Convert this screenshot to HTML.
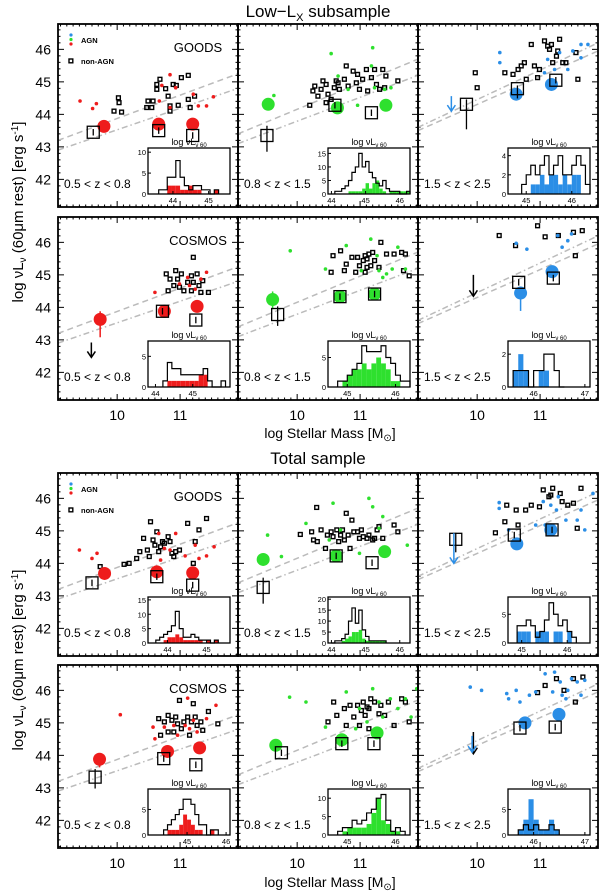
<!DOCTYPE html>
<html><head><meta charset="utf-8"><style>
body{margin:0;background:#fff;}
svg{display:block;font-family:"Liberation Sans",sans-serif;}
</style></head><body>
<svg id="fig" width="600" height="891" viewBox="0 0 600 891" xmlns="http://www.w3.org/2000/svg">
<text x="318" y="17" font-size="17" text-anchor="middle">Low−L<tspan font-size="11" dy="4">X</tspan><tspan dy="-4"> subsample</tspan></text>
<text x="318" y="464" font-size="17" text-anchor="middle">Total sample</text>
<text x="330" y="438" font-size="14" text-anchor="middle">log Stellar Mass [M<tspan font-size="10" dy="3">⊙</tspan><tspan dy="-3">]</tspan></text>
<text x="330" y="887" font-size="14" text-anchor="middle">log Stellar Mass [M<tspan font-size="10" dy="3">⊙</tspan><tspan dy="-3">]</tspan></text>
<text transform="translate(23,212) rotate(-90)" font-size="15" text-anchor="middle">log νL<tspan font-size="10" dy="3">ν</tspan><tspan dy="-3"> (60μm rest) [erg s</tspan><tspan font-size="10" dy="-5">-1</tspan><tspan dy="5">]</tspan></text>
<text transform="translate(23,660) rotate(-90)" font-size="15" text-anchor="middle">log νL<tspan font-size="10" dy="3">ν</tspan><tspan dy="-3"> (60μm rest) [erg s</tspan><tspan font-size="10" dy="-5">-1</tspan><tspan dy="5">]</tspan></text>
</svg>
<script>
// ---- data ----
const massTicks = [10, 11];
const lumTicks = [42, 43, 44, 45, 46];
const zLabels = ["0.5 < z < 0.8", "0.8 < z < 1.5", "1.5 < z < 2.5"];
const dashLine = [[43.2,45.25],[43.4,45.7],[43.5,45.95]];
const dotDashLine = [[42.9,44.8],[43.1,45.2],[43.6,46.2]];

const r1c1_agn=[[9.41,44.41],[9.67,44.33],[9.61,44.18],[10.84,45.22],[10.71,44.89],[10.93,44.82],[10.67,44.41],[10.84,44.21],[11.21,44.62],[11.29,44.26],[11.42,44.26],[11.53,44.54]];
const r1c1_non=[[10.02,44.51],[10.03,44.36],[9.95,44.10],[10.07,44.07],[10.49,44.41],[10.47,44.21],[10.55,44.21],[10.63,44.92],[10.63,44.77],[10.68,45.08],[10.77,44.79],[10.81,44.56],[10.84,44.26],[10.89,44.92],[10.94,44.89],[11.02,45.13],[11.13,45.20],[11.13,44.46],[11.16,44.21],[11.23,44.56],[10.84,44.10],[10.97,44.28],[10.57,44.41]];
const r1c1_bigA=[[9.79,43.63,0,0],[10.66,43.70,0,0],[11.20,43.70,0,0]];
const r1c1_bigN=[[9.62,43.45,0.1,0.1],[10.66,43.50,0.1,0.1],[11.20,43.35,0.1,0.1]];
const r1c1_arrows=[];
const r1c1_histAll=[1,1,4,4,8,4,2,1,2,2,1,1,0,1];
const r1c1_histAgn=[0,0,2,2,2,1,1,2,1,1,0,0,0,1];

const r1c2_agn=[[10.54,45.87],[11.20,46.05],[9.63,44.58],[11.18,45.49],[10.81,44.77],[10.96,44.28],[11.23,44.82],[10.65,45.18],[11.39,44.77],[11.49,44.82]];
const r1c2_non=[[10.20,44.28],[10.28,44.87],[10.25,44.72],[10.33,44.56],[10.38,44.77],[10.41,45.03],[10.46,44.92],[10.49,44.62],[10.54,44.46],[10.59,44.82],[10.62,45.03],[10.65,44.97],[10.67,44.77],[10.75,45.08],[10.78,45.49],[10.81,44.87],[10.89,45.33],[10.94,44.97],[10.96,45.23],[10.99,44.77],[11.04,45.08],[11.10,45.38],[11.12,44.72],[11.18,45.13],[11.23,45.38],[11.26,44.92],[11.31,44.77],[11.36,45.38],[11.39,44.82],[11.41,45.18],[11.60,45.03],[10.46,44.36]];
const r1c2_bigA=[[9.54,44.31,0.1,0.1],[10.64,44.20,0,0],[11.41,44.28,0,0]];
const r1c2_bigN=[[9.52,43.35,0.5,0.3],[10.60,44.28,0.1,0.1],[11.18,44.05,0.1,0.1]];
const r1c2_arrows=[];
const r1c2_histAll=[1,1,2,3,5,8,10,15,10,12,8,6,4,3,5,2,1,1,1,0,0,1];
const r1c2_histAgn=[0,0,0,0,1,1,1,1,2,4,2,4,5,2,1,0,1,1,1,1,1,1];

const r1c3_agn=[[10.36,45.90],[10.36,45.59],[11.12,45.69],[11.31,45.90],[11.44,45.38],[11.65,46.15],[11.76,46.15],[11.65,45.74],[11.52,45.95],[11.23,45.38],[11.07,45.28]];
const r1c3_non=[[9.97,45.28],[10.00,44.82],[10.44,45.28],[10.57,45.23],[10.65,45.38],[10.70,45.49],[10.75,45.59],[10.78,45.08],[10.86,46.15],[10.91,45.49],[10.96,45.13],[11.07,46.26],[11.12,46.10],[11.15,46.00],[11.18,46.15],[11.20,45.59],[11.26,45.79],[11.28,45.95],[11.31,46.31],[11.36,45.59],[11.41,45.59],[11.57,45.90],[11.60,45.08],[10.99,45.38]];
const r1c3_bigA=[[10.62,44.62,0.1,0.1],[11.18,44.92,0,0]];
const r1c3_bigN=[[9.83,44.31,0.77,0.15],[10.64,44.79,0.3,0.1],[11.25,45.05,0.1,0.1]];
const r1c3_arrows=[[9.59,44.56,44.10,"c"]];
const r1c3_histAll=[1,2,3,2,3,4,2,3,4,2,2,3,4,3,1];
const r1c3_histAgn=[0,0,1,1,2,1,2,2,1,2,1,2,2,0,0];

const r2c1_agn=[[10.60,44.46],[11.12,44.92],[11.42,45.08],[11.15,44.67],[10.99,44.72],[11.33,44.87],[11.24,44.56]];
const r2c1_non=[[11.21,45.54],[10.78,45.03],[10.84,44.87],[10.93,45.13],[10.96,44.87],[10.90,44.67],[10.99,44.62],[11.02,45.03],[11.12,44.77],[11.18,44.97],[11.21,44.77],[11.27,45.03],[11.30,44.67],[11.33,44.46],[11.36,44.82],[11.45,44.46],[11.06,44.51],[10.81,44.51],[11.18,44.51]];
const r2c1_bigA=[[9.73,43.63,0.55,0.25],[10.75,43.88,0,0],[11.27,44.03,0,0]];
const r2c1_bigN=[[10.72,43.88,0.1,0.1],[11.25,43.61,0.1,0.1]];
const r2c1_arrows=[[9.59,42.92,42.46,"k"]];
const r2c1_histAll=[1,4,3,3,2,2,2,2,2,3,1,0,0,1];
const r2c1_histAgn=[0,1,1,1,1,1,1,1,2,2,0,0,0,0];

const r2c2_agn=[[9.89,45.74],[10.45,45.18],[10.78,45.90],[11.02,45.13],[11.17,46.10],[11.27,45.59],[11.36,44.92],[11.51,45.18],[11.60,45.85],[11.72,45.18],[11.30,45.13],[11.42,45.03]];
const r2c2_non=[[10.57,45.59],[10.69,45.74],[10.78,45.33],[10.87,45.54],[10.96,45.54],[10.99,45.28],[11.05,45.44],[11.08,45.59],[11.11,45.49],[11.14,45.64],[11.17,45.28],[11.20,45.69],[11.23,45.44],[11.30,45.23],[11.33,46.00],[11.42,45.64],[11.54,45.64],[11.66,45.69],[11.69,45.13],[11.72,45.64],[10.54,45.08],[10.75,45.13],[10.93,45.08],[11.08,45.08],[11.11,45.23],[11.78,44.97]];
const r2c2_bigA=[[9.61,44.24,0.3,0.25],[10.68,44.33,0,0],[11.23,44.41,0,0]];
const r2c2_bigN=[[9.69,43.78,0.35,0.25],[10.68,44.33,0.1,0.1],[11.23,44.41,0.1,0.1]];
const r2c2_arrows=[];
const r2c2_histAll=[1,1,2,3,4,7,6,6,6,7,5,4,2,1,1];
const r2c2_histAgn=[0,1,2,3,3,4,3,4,5,4,3,1,1,0,0];

const r2c3_agn=[[10.62,45.97],[10.79,45.79],[11.35,45.85],[11.50,46.26],[11.28,46.21],[11.44,46.05]];
const r2c3_non=[[10.35,46.21],[10.61,45.90],[10.96,46.51],[11.08,46.17],[11.29,46.21],[11.53,46.31],[11.67,46.36],[11.56,45.59]];
const r2c3_bigA=[[10.69,44.44,0.55,0.2],[11.19,45.10,0,0]];
const r2c3_bigN=[[10.66,44.77,0.1,0.1],[11.21,44.90,0.1,0.1]];
const r2c3_arrows=[[9.94,45.00,44.34,"k"]];
const r2c3_histAll=[1,1,1,0,1,1,2,2,1,0];
const r2c3_histAgn=[1,2,1,0,0,1,1,0,0,0];

const r3c1_agn=[[9.40,44.41],[9.60,44.15],[9.68,44.31],[10.66,44.92],[10.75,44.46],[10.84,44.41],[11.08,44.23],[11.24,44.56],[11.30,44.15],[11.42,44.23],[11.54,44.51],[10.69,44.10],[10.93,44.92]];
const r3c1_non=[[9.73,43.90],[10.11,43.97],[10.19,44.00],[10.31,44.15],[10.36,44.36],[10.42,44.77],[10.48,44.41],[10.53,45.28],[10.57,44.72],[10.63,44.97],[10.60,44.56],[10.66,44.36],[10.69,44.51],[10.72,44.67],[10.75,44.62],[10.81,44.82],[10.84,44.67],[10.87,44.31],[10.90,44.21],[10.93,44.36],[10.99,44.41],[11.12,45.23],[11.24,44.67],[11.30,45.03],[11.42,45.38],[11.21,44.00],[10.51,44.21]];
const r3c1_bigA=[[9.80,43.69,0,0],[10.63,43.74,0.15,0.15],[11.20,43.71,0,0]];
const r3c1_bigN=[[9.60,43.40,0.1,0.1],[10.63,43.59,0.1,0.1],[11.20,43.33,0.1,0.1]];
const r3c1_arrows=[];
const r3c1_histAll=[1,2,3,4,6,11,5,2,2,3,2,1,1,1,0,1];
const r3c1_histAgn=[0,0,1,2,2,3,2,1,1,1,1,1,0,1,0,1];

const r3c2_agn=[[9.53,44.87],[9.75,44.21],[10.14,45.23],[10.57,45.85],[11.14,46.00],[11.20,45.74],[11.36,45.44],[11.75,44.56],[10.99,44.31],[10.69,45.03],[11.30,45.08],[10.51,44.72]];
const r3c2_non=[[10.05,44.89],[10.31,45.72],[10.23,44.97],[10.26,44.72],[10.32,44.67],[10.38,45.03],[10.45,44.46],[10.48,44.87],[10.54,44.97],[10.57,44.82],[10.63,45.03],[10.66,44.67],[10.69,44.87],[10.72,45.03],[10.75,44.72],[10.78,45.54],[10.81,44.87],[10.84,44.46],[10.87,45.33],[10.90,44.97],[10.96,44.97],[10.99,44.77],[11.02,45.03],[11.05,44.82],[11.11,44.77],[11.14,44.87],[11.20,44.72],[11.23,44.77],[11.27,45.03],[11.30,45.13],[11.36,44.77],[11.60,44.97],[11.54,45.18]];
const r3c2_bigA=[[9.46,44.12,0.15,0.1],[10.62,44.23,0,0],[11.39,44.36,0,0]];
const r3c2_bigN=[[9.46,43.26,0.5,0.3],[10.62,44.23,0.1,0.1],[11.19,44.02,0.1,0.1]];
const r3c2_arrows=[];
const r3c2_histAll=[0,1,1,2,4,10,16,9,15,6,3,1,1,1,1,1];
const r3c2_histAgn=[0,0,0,1,2,3,5,5,6,2,1,1,1,1,1,1];

const r3c3_agn=[[10.35,45.87],[10.35,45.69],[10.50,45.03],[11.05,45.90],[11.17,45.79],[11.29,46.05],[11.41,45.33],[11.59,45.33],[11.65,45.64],[11.71,45.03],[11.84,46.15],[11.08,45.18],[10.93,45.18],[11.26,45.64]];
const r3c3_non=[[10.29,44.94],[10.44,45.28],[10.47,45.79],[10.62,45.64],[10.65,45.18],[10.77,45.64],[10.86,45.79],[10.99,45.74],[11.05,46.26],[11.17,46.10],[11.20,46.31],[11.32,46.15],[11.14,46.05],[11.53,45.85],[11.59,45.08],[11.65,46.31],[11.35,45.90],[11.44,45.79]];
const r3c3_bigA=[[10.63,44.60,0.1,0.1],[11.17,45.03,0,0]];
const r3c3_bigN=[[9.66,44.74,0.4,0.2],[10.59,44.87,0.1,0.1],[11.19,45.03,0.1,0.1]];
const r3c3_arrows=[[9.63,44.93,44.00,"c"]];
const r3c3_histAll=[3,3,4,3,1,2,4,7,5,3,4,2,1];
const r3c3_histAgn=[2,2,2,0,2,2,2,0,2,2,0,2,0];

const r4c1_agn=[[10.05,45.25],[11.12,45.76],[11.57,45.54],[10.57,44.87],[10.60,44.51],[10.75,44.87],[10.90,44.92],[11.08,44.92],[11.15,44.82],[11.21,45.08],[11.42,45.13],[11.27,44.72],[10.96,44.62]];
const r4c1_non=[[10.99,45.69],[11.21,45.59],[10.66,45.13],[10.75,45.03],[10.81,45.23],[10.87,45.08],[10.93,45.18],[10.96,44.97],[11.02,44.82],[11.06,45.03],[11.12,45.18],[11.15,44.62],[11.18,45.03],[11.24,45.18],[11.27,44.92],[11.33,45.03],[11.36,44.77],[11.45,45.35],[11.60,44.97],[10.90,44.72],[10.81,44.72],[10.69,44.62]];
const r4c1_bigA=[[9.72,43.88,0.25,0.1],[10.80,44.12,0,0],[11.31,44.23,0,0]];
const r4c1_bigN=[[9.65,43.33,0.35,0.25],[10.74,43.90,0.1,0.1],[11.25,43.71,0.1,0.1]];
const r4c1_arrows=[];
const r4c1_histAll=[1,2,3,4,5,7,7,6,4,2,2,0,1,1];
const r4c1_histAgn=[0,1,1,1,2,4,3,2,1,1,0,0,1,0];

const r4c2_agn=[[9.88,45.79],[10.14,45.64],[10.45,44.87],[10.78,45.95],[10.99,45.44],[11.20,46.05],[11.30,45.64],[11.36,45.18],[11.48,45.74],[11.60,45.44],[11.72,45.74],[11.81,45.18],[11.90,46.05],[11.11,45.03],[10.93,44.82]];
const r4c2_non=[[10.49,45.03],[10.58,45.64],[10.63,45.23],[10.75,45.44],[10.78,44.92],[10.84,45.54],[10.90,45.18],[10.96,45.54],[11.02,45.38],[11.05,45.64],[11.08,45.23],[11.11,45.49],[11.14,45.44],[11.17,45.74],[11.23,45.64],[11.30,45.28],[11.33,45.54],[11.39,45.23],[11.45,45.64],[11.54,44.92],[11.66,45.74],[11.78,45.03],[11.72,45.64],[10.99,44.92],[11.14,44.82]];
const r4c2_bigA=[[9.66,44.31,0.1,0.1],[10.71,44.48,0,0],[11.27,44.69,0,0]];
const r4c2_bigN=[[9.75,44.08,0.1,0.1],[10.71,44.36,0.1,0.1],[11.22,44.36,0.1,0.1]];
const r4c2_arrows=[];
const r4c2_histAll=[1,2,2,4,3,4,6,7,10,11,4,1,2,1];
const r4c2_histAgn=[0,1,2,2,2,2,3,6,10,4,3,1,1,0];

const r4c3_agn=[[9.89,46.10],[10.07,46.00],[10.47,45.90],[10.62,46.00],[10.50,45.74],[10.68,45.64],[10.83,45.85],[10.93,45.95],[11.08,46.51],[11.23,46.56],[11.32,46.26],[11.35,45.85],[11.41,45.74],[11.50,46.36],[11.59,46.26],[11.65,45.85],[11.71,46.31],[11.20,45.95],[11.44,46.00]];
const r4c3_non=[[10.96,45.93],[11.08,46.15],[11.26,46.36],[11.38,46.00],[11.56,45.64],[11.68,46.41],[11.53,46.36]];
const r4c3_bigA=[[10.76,45.00,0,0],[11.30,45.26,0,0]];
const r4c3_bigN=[[10.68,44.84,0.1,0.1],[11.24,44.87,0.1,0.1]];
const r4c3_arrows=[[9.94,44.72,44.05,"k"],[9.92,44.60,44.10,"c"]];
const r4c3_histAll=[1,2,1,2,1,1,2,1];
const r4c3_histAgn=[1,3,7,3,1,1,3,1];

const histRange=[[43.3,45.6],[43.9,46.3],[44.6,46.4],[43.8,46.0],[44.6,46.3],[45.5,47.1],[43.5,45.6],[43.9,46.3],[44.7,46.5],[44.0,46.1],[44.6,46.3],[45.5,47.1]];
const histStart=[43.6,44.1,44.9,44.2,44.8,45.6,43.7,44.0,44.9,44.4,44.8,45.7];
const histBinW=[0.12,0.1,0.1,0.12,0.1,0.1,0.1,0.1,0.1,0.1,0.1,0.1];
const histYMax=[11,17,4.8,7.5,7.8,2.8,16,21,8,9,12.5,9];
const histYTicks=[[0,5,10],[0,5,10,15],[0,2,4],[0,5],[0,5],[0,2],[0,5,10,15],[0,5,10,15,20],[0,5],[0,5],[0,5,10],[0,5]];
const histXTicks=[[44,45],[44,45,46],[45,46],[44,45],[45,46],[46,47],[44,45],[44,45,46],[45,46],[45,46],[45,46],[46,47]];

const NS="http://www.w3.org/2000/svg";
const svg=document.getElementById("fig");
const colX=[58,238,418], rowY=[24,217,473,665], PW=180, PH=183;
const M0=9.06, M1=11.92, L0=41.15, L1=46.78;
const colors=["#ee1c1c","#2ee02e","#2b8ee6"];
function mk(tag,attrs,parent){const e=document.createElementNS(NS,tag);for(const k in attrs)e.setAttribute(k,attrs[k]);(parent||svg).appendChild(e);return e;}

const panels=[
 [r1c1_agn,r1c1_non,r1c1_bigA,r1c1_bigN,r1c1_arrows,r1c1_histAll,r1c1_histAgn],
 [r1c2_agn,r1c2_non,r1c2_bigA,r1c2_bigN,r1c2_arrows,r1c2_histAll,r1c2_histAgn],
 [r1c3_agn,r1c3_non,r1c3_bigA,r1c3_bigN,r1c3_arrows,r1c3_histAll,r1c3_histAgn],
 [r2c1_agn,r2c1_non,r2c1_bigA,r2c1_bigN,r2c1_arrows,r2c1_histAll,r2c1_histAgn],
 [r2c2_agn,r2c2_non,r2c2_bigA,r2c2_bigN,r2c2_arrows,r2c2_histAll,r2c2_histAgn],
 [r2c3_agn,r2c3_non,r2c3_bigA,r2c3_bigN,r2c3_arrows,r2c3_histAll,r2c3_histAgn],
 [r3c1_agn,r3c1_non,r3c1_bigA,r3c1_bigN,r3c1_arrows,r3c1_histAll,r3c1_histAgn],
 [r3c2_agn,r3c2_non,r3c2_bigA,r3c2_bigN,r3c2_arrows,r3c2_histAll,r3c2_histAgn],
 [r3c3_agn,r3c3_non,r3c3_bigA,r3c3_bigN,r3c3_arrows,r3c3_histAll,r3c3_histAgn],
 [r4c1_agn,r4c1_non,r4c1_bigA,r4c1_bigN,r4c1_arrows,r4c1_histAll,r4c1_histAgn],
 [r4c2_agn,r4c2_non,r4c2_bigA,r4c2_bigN,r4c2_arrows,r4c2_histAll,r4c2_histAgn],
 [r4c3_agn,r4c3_non,r4c3_bigA,r4c3_bigN,r4c3_arrows,r4c3_histAll,r4c3_histAgn]];

panels.forEach((P,i)=>{
 const row=Math.floor(i/3), col=i%3, x0=colX[col], y0=rowY[row];
 const X=m=>x0+(m-M0)/(M1-M0)*PW, Y=L=>y0+(L1-L)/(L1-L0)*PH;
 const color=colors[col];
 const g=mk("g",{});
 
 
 for(let m=9.1;m<11.92;m+=0.1){const mj=Math.abs(m-Math.round(m))<0.01, len=mj?6:2.5;
  mk("line",{x1:X(m),x2:X(m),y1:y0,y2:y0+len,stroke:"#000","stroke-width":1},g);
  mk("line",{x1:X(m),x2:X(m),y1:y0+PH,y2:y0+PH-len,stroke:"#000","stroke-width":1},g);}
 for(let L=41.2;L<46.78;L+=0.2){const mj=Math.abs(L-Math.round(L))<0.01, len=mj?6:2.5;
  mk("line",{x1:x0,x2:x0+len,y1:Y(L),y2:Y(L),stroke:"#000","stroke-width":1},g);
  mk("line",{x1:x0+PW,x2:x0+PW-len,y1:Y(L),y2:Y(L),stroke:"#000","stroke-width":1},g);}
 const dl=mk("line",{x1:x0,y1:Y(dashLine[col][0]),x2:x0+PW,y2:Y(dashLine[col][1]),stroke:"#bbb","stroke-width":1.5,"stroke-dasharray":"6,4"},g);
 
 
 const ddl=mk("line",{x1:x0,y1:Y(dotDashLine[col][0]),x2:x0+PW,y2:Y(dotDashLine[col][1]),stroke:"#bbb","stroke-width":1.5,"stroke-dasharray":"6,3,1.5,3"},g);
 
 
 P[1].forEach(p=>{const r=mk("rect",{x:X(p[0])-1.9,y:Y(p[1])-1.9,width:3.8,height:3.8,fill:"none",stroke:"#000","stroke-width":1.4},g);
  
  });
 P[0].forEach(p=>{const c=mk("circle",{cx:X(p[0]),cy:Y(p[1]),r:1.8,fill:color},g);
  
  });
 P[2].forEach(p=>{const c=mk("circle",{cx:X(p[0]),cy:Y(p[1]),r:6.5,fill:color},g);
  
  
  if(p[2]||p[3]){const e=mk("line",{x1:X(p[0]),x2:X(p[0]),y1:Y(p[1]+p[3]),y2:Y(p[1]-p[2]),stroke:color,"stroke-width":1.5},g);
   
   }});
 P[3].forEach(p=>{const r=mk("rect",{x:X(p[0])-6,y:Y(p[1])-6,width:12,height:12,fill:"none",stroke:"#000","stroke-width":1.3},g);
  
  
  const e=mk("line",{x1:X(p[0]),x2:X(p[0]),y1:Y(p[1]+p[3]),y2:Y(p[1]-p[2]),stroke:"#000","stroke-width":1.3},g);
  
  });
 P[4].forEach(a=>{const c=a[3]==="k"?"#000":color;
  const ar=mk("path",{d:`M${X(a[0])},${Y(a[1])}V${Y(a[2])}M${X(a[0])-4},${Y(a[2])-6}L${X(a[0])},${Y(a[2])}L${X(a[0])+4},${Y(a[2])-6}`,stroke:c,"stroke-width":1.5,fill:"none"},g);
  
  });
 const fr=mk("rect",{x:x0,y:y0,width:PW,height:PH,fill:"none",stroke:"#000","stroke-width":1.8},g);
 
 
 const zl=mk("text",{x:x0+6,y:y0+PH-19,"font-size":12},g); zl.textContent=zLabels[col];
 
 
 const bx0=x0+90,bx1=x0+172,by0=y0+124,by1=y0+170;
 const hr=histRange[i], ym=histYMax[i];
 const HX=v=>bx0+(v-hr[0])/(hr[1]-hr[0])*(bx1-bx0), HY=c=>by1-c/ym*(by1-by0);
 const ig=mk("g",{},g);
 
 
 mk("rect",{x:bx0,y:by0,width:bx1-bx0,height:by1-by0,fill:"#fff"},ig);
 const st=histStart[i], w=histBinW[i];
 P[6].forEach((c,k)=>{if(!c)return;const b=mk("rect",{x:HX(st+k*w),y:HY(c),width:HX(st+(k+1)*w)-HX(st+k*w),height:by1-HY(c),fill:color},ig);
  
  });
 let d=`M${HX(st)},${by1}`;
 P[5].forEach((c,k)=>{d+=`V${HY(c)}H${HX(st+(k+1)*w)}`;});
 d+=`V${by1}`;
 const hp=mk("path",{d:d,fill:"none",stroke:"#000","stroke-width":1.2},ig);
 
 
 mk("rect",{x:bx0,y:by0,width:bx1-bx0,height:by1-by0,fill:"none",stroke:"#000","stroke-width":1.3},ig);
 histYTicks[i].forEach(t=>{mk("line",{x1:bx0,x2:bx0+3,y1:HY(t),y2:HY(t),stroke:"#000"},ig);
  const tx=mk("text",{x:bx0-2,y:HY(t)+3,"font-size":7.5,"text-anchor":"end"},ig);tx.textContent=t;
  
  });
 histXTicks[i].forEach(t=>{mk("line",{x1:HX(t),x2:HX(t),y1:by1,y2:by1-3,stroke:"#000"},ig);
  const tx=mk("text",{x:HX(t),y:by1+9,"font-size":7.5,"text-anchor":"middle"},ig);tx.textContent=t;
  
  });
 const ht=mk("text",{x:(bx0+bx1)/2,y:by0-3,"font-size":9,"text-anchor":"middle"},ig);
 ht.innerHTML='log νL<tspan font-size="6" dy="2">ν 60</tspan>';
 
 
 if(col===0){lumTicks.forEach(t=>{const tx=mk("text",{x:x0-7,y:Y(t)+5,"font-size":14,"text-anchor":"end"});tx.textContent=t;
  
  });
  const fld=mk("text",{x:x0+140,y:y0+28,"font-size":13,"text-anchor":"middle"});fld.textContent=(row%2===0)?"GOODS":"COSMOS";
  
  
  if(row%2===0){colors.forEach((c,k)=>{const dd=mk("circle",{cx:x0+13,cy:y0+11+k*4.5,r:1.6,fill:colors[2-k]});
    
    });
   const la=mk("text",{x:x0+23,y:y0+19,"font-size":7.5,"font-weight":"bold"});la.textContent="AGN";
   
   
   mk("rect",{x:x0+11,y:y0+35,width:3.8,height:3.8,fill:"none",stroke:"#000","stroke-width":1.4});
   const ln=mk("text",{x:x0+23,y:y0+40,"font-size":7.5,"font-weight":"bold"});ln.textContent="non-AGN";
   
   }}
 if(row===1||row===3){massTicks.forEach(t=>{const tx=mk("text",{x:X(t),y:y0+PH+20,"font-size":14,"text-anchor":"middle"});tx.textContent=t;
  
  });}
});
</script>
</body></html>
